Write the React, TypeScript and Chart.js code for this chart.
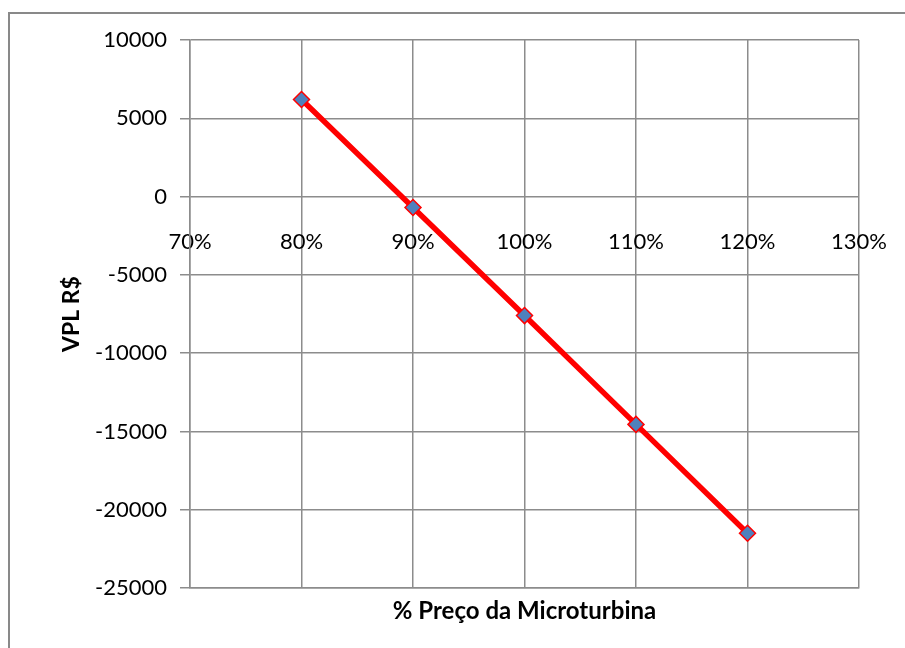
import React, { useEffect, useRef } from "react";
import { Chart, registerables } from "chart.js";

Chart.register(...registerables);

const pricePercent = [80, 90, 100, 110, 120];
const vplValues = [6200, -700, -7600, -14550, -21500];
const xTitle = "% Preço da Microturbina";
const yTitle = "VPL R$";

const GRID = "#8c8c8c";
const FONT = "Lato, 'Open Sans', sans-serif";

const outerBorder = {
  id: "outerBorder",
  afterDraw(chart: any) {
    const ctx = chart.ctx;
    ctx.save();
    ctx.strokeStyle = "#898989";
    ctx.lineWidth = 2;
    ctx.strokeRect(9, 13, 2000, 2000);
    ctx.restore();
  },
};

export default function App() {
  const ref = useRef<HTMLCanvasElement | null>(null);
  useEffect(() => {
    if (!ref.current) return;
    const chart = new Chart(ref.current, {
      type: "scatter",
      data: {
        datasets: [
          {
            data: pricePercent.map((x, i) => ({ x, y: vplValues[i] })),
            showLine: true,
            borderColor: "#ff0000",
            borderWidth: 5.5,
            pointStyle: "rectRot",
            pointRadius: 8,
            pointBackgroundColor: "#4f81bd",
            pointBorderColor: "#ff0000",
            pointBorderWidth: 1.5,
          },
        ],
      },
      options: {
        responsive: false,
        animation: false,
        layout: { padding: { top: 40, right: 46, bottom: 0, left: 0 } },
        plugins: { legend: { display: false }, tooltip: { enabled: false } },
        scales: {
          x: {
            type: "linear",
            position: "bottom",
            min: 70,
            max: 130,
            ticks: { display: false, stepSize: 10 },
            grid: { color: GRID, lineWidth: 1.5, drawTicks: false },
            border: { color: GRID, width: 1.5 },
            title: {
              display: true,
              text: xTitle,
              color: "#000",
              font: { family: FONT, size: 24, weight: "bold" },
              padding: { top: 0, bottom: 22 },
            },
            afterFit(scale: any) {
              scale.height = 60;
              scale.paddingLeft = 0;
              scale.paddingRight = 0;
            },
          },
          xlab: {
            type: "linear",
            position: { y: 0 },
            min: 70,
            max: 130,
            ticks: {
              stepSize: 10,
              padding: 32,
              color: "#000",
              font: { family: FONT, size: 22 },
              callback: (v: any) => v + "%",
            },
            grid: { display: false, drawTicks: false },
            border: { display: false },
            afterFit(scale: any) {
              scale.paddingLeft = 0;
              scale.paddingRight = 0;
            },
          },
          y: {
            type: "linear",
            min: -25000,
            max: 10000,
            ticks: {
              stepSize: 5000,
              padding: 13,
              color: "#000",
              font: { family: FONT, size: 22 },
              callback: (v: any) => String(v),
            },
            grid: { color: GRID, lineWidth: 1.5, drawTicks: true, tickLength: 10 },
            border: { color: GRID, width: 1.5 },
            title: {
              display: true,
              text: yTitle,
              color: "#000",
              font: { family: FONT, size: 23, weight: "bold" },
              padding: { top: 58, bottom: 0 },
            },
            afterFit(scale: any) {
              scale.width = 190;
            },
          },
        },
      },
      plugins: [outerBorder],
    });
    return () => chart.destroy();
  }, []);
  return (
    <div style={{ position: "absolute", left: 0, top: 0, width: 905, height: 648, background: "#fff" }}>
      <canvas ref={ref} width={905} height={648} style={{ display: "block" }} />
    </div>
  );
}
